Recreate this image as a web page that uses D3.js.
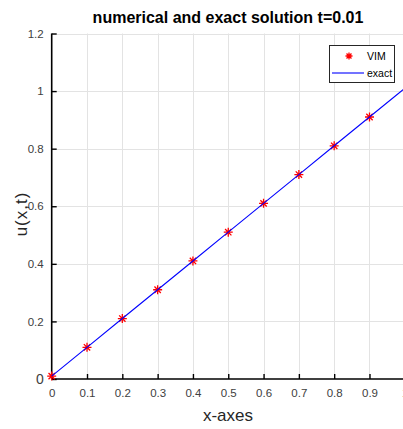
<!DOCTYPE html>
<html>
<head>
<meta charset="utf-8">
<script src="https://cdn.jsdelivr.net/npm/d3@7"></script>
<style>
  html, body { margin: 0; padding: 0; background: #fff; }
  svg { display: block; font-family: "Liberation Sans", Arial, sans-serif; }
</style>
</head>
<body>
<svg id="chart" width="403" height="429"></svg>
<script>
// Sample positions and solution values at t = 0.01
const vimX = [0, 0.1, 0.2, 0.3, 0.4, 0.5, 0.6, 0.7, 0.8, 0.9];
const vimU = [0.01, 0.11, 0.21, 0.31, 0.41, 0.51, 0.61, 0.71, 0.81, 0.91];
const exactX = [0, 0.1, 0.2, 0.3, 0.4, 0.5, 0.6, 0.7, 0.8, 0.9, 1.0];
const exactU = [0.01, 0.11, 0.21, 0.31, 0.41, 0.51, 0.61, 0.71, 0.81, 0.91, 1.01];
const xTicks = [0, 0.1, 0.2, 0.3, 0.4, 0.5, 0.6, 0.7, 0.8, 0.9, 1];
const yTicks = [0, 0.2, 0.4, 0.6, 0.8, 1, 1.2];

const svg = d3.select("#chart");
const W = 403, H = 429;
svg.append("rect").attr("width", W).attr("height", H).attr("fill", "#fff");

const x = d3.scaleLinear().domain([0, 1]).range([51.7, 404.8]);
const y = d3.scaleLinear().domain([0, 1.2]).range([379, 33.5]);

// grid
const grid = svg.append("g").attr("stroke", "#e3e3e3").attr("stroke-width", 1);
grid.selectAll("line.v").data(xTicks.slice(1)).join("line")
  .attr("x1", d => Math.round(x(d)) + 0.5).attr("x2", d => Math.round(x(d)) + 0.5)
  .attr("y1", y(1.2)).attr("y2", y(0));
grid.selectAll("line.h").data(yTicks.slice(1)).join("line")
  .attr("x1", x(0)).attr("x2", W)
  .attr("y1", d => Math.round(y(d)) + 0.5).attr("y2", d => Math.round(y(d)) + 0.5);

// axes
const xAxis = d3.axisBottom(x).tickValues(xTicks).tickSize(-5).tickPadding(10)
  .tickFormat(d3.format(""));
const yAxis = d3.axisLeft(y).tickValues(yTicks).tickSize(-5).tickPadding(8)
  .tickFormat(d3.format(""));

const gx = svg.append("g").attr("transform", `translate(0,${y(0)})`).call(xAxis);
const gy = svg.append("g").attr("transform", `translate(${x(0)},0)`).call(yAxis);
[gx, gy].forEach(g => {
  g.select(".domain").attr("stroke", "#000").attr("stroke-width", 1.6);
  g.selectAll(".tick line").attr("stroke", "#000").attr("stroke-width", 1.4);
  g.selectAll(".tick text").attr("fill", "#404040").attr("font-size", 11.5)
    .attr("font-family", "'Liberation Sans', Arial, sans-serif");
});
gx.select(".domain").attr("d", `M${x(0)},0H${W}`);
gy.select(".domain").attr("d", `M0,${y(0)}V${y(1.2)}`);
gy.selectAll(".tick").filter(d => d === 0).select("text").attr("font-size", 14);

// exact solution
const line = d3.line().x(d => x(d[0])).y(d => y(d[1]));
const exactPts = exactX.map((v, i) => [v, exactU[i]]);

// VIM markers (asterisk)
const star = r => {
  const s = r * 0.7071;
  return `M${-r},0H${r}M0,${-r}V${r}M${-s},${-s}L${s},${s}M${-s},${s}L${s},${-s}`;
};
svg.append("g").selectAll("path").data(vimX.map((v, i) => [v, vimU[i]])).join("path")
  .attr("transform", d => `translate(${x(d[0])},${y(d[1])})`)
  .attr("d", star(4.5)).attr("stroke", "#ff0000").attr("stroke-width", 1.3).attr("fill", "none");

svg.append("path").datum(exactPts).attr("d", line)
  .attr("fill", "none").attr("stroke", "#0000ff").attr("stroke-width", 1.1);

// title and labels
svg.append("text").attr("x", 228).attr("y", 23).attr("text-anchor", "middle")
  .attr("font-size", 16).attr("font-weight", "bold").attr("fill", "#000")
  .text("numerical and exact solution t=0.01");
svg.append("text").attr("x", 228).attr("y", 421).attr("text-anchor", "middle")
  .attr("font-size", 17).attr("fill", "#262626").text("x-axes");
svg.append("text").attr("transform", "translate(27,214) rotate(-90)").attr("text-anchor", "middle")
  .attr("font-size", 17).attr("letter-spacing", 1).attr("fill", "#262626").text("u(x,t)");

// legend
const lg = svg.append("g");
lg.append("rect").attr("x", 329.5).attr("y", 45.5).attr("width", 65).attr("height", 37)
  .attr("fill", "#fff").attr("stroke", "#262626").attr("stroke-width", 1);
lg.append("path").attr("transform", "translate(349,56)").attr("d", star(3.5))
  .attr("stroke", "#ff0000").attr("stroke-width", 1.3).attr("fill", "none");
lg.append("line").attr("x1", 332).attr("x2", 364).attr("y1", 73).attr("y2", 73)
  .attr("stroke", "#0000ff").attr("stroke-width", 1.1);
lg.append("text").attr("x", 367).attr("y", 60).attr("font-size", 10.5).attr("fill", "#000").text("VIM");
lg.append("text").attr("x", 367).attr("y", 77).attr("font-size", 10.5).attr("fill", "#000").text("exact");
</script>
</body>
</html>
